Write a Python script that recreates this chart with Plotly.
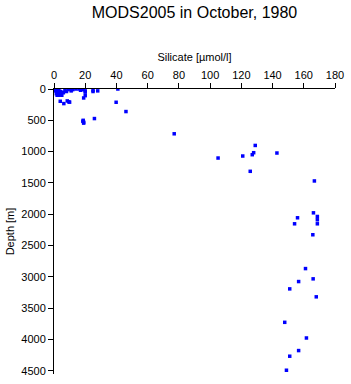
import plotly.graph_objects as go

silicate = [1, 2, 3, 1.5, 2.5, 1, 3, 4, 2, 5, 1.5, 3, 4.5, 6, 2, 3, 5, 7, 8, 9, 10, 11, 12, 14, 16, 17, 19, 20, 20, 19, 20, 25, 25, 28,
            4, 6.3, 8.5, 9.5, 10, 18.5, 19, 19, 18.7, 25.9, 39.8, 40.9, 46.1, 77,
            128.9, 127.9, 127, 142.8, 105.1, 120.9, 125.7, 166.8, 166.2, 168.7, 168.7, 168.7, 156, 154.1, 165.8,
            161.1, 166, 156.7, 151, 168, 147.8, 161.7, 156.7, 151, 148.9]
depth = [0, 0, 5, 10, 20, 30, 30, 40, 50, 50, 75, 75, 75, 60, 100, 100, 100, 20, 40, 10, 0, 30, 10, 0, 0, 20, 10, 30, 50, 143, 106, 20, 40, 30,
         196, 233, 190, 205, 210, 515, 530, 545, 500, 472, 212, 0, 360, 715,
         901, 1017, 1049, 1022, 1102, 1070, 1314, 1468, 1977, 2035, 2088, 2152, 2056, 2152, 2327,
         2867, 3031, 3074, 3191, 3318, 3725, 3975, 4176, 4266, 4490]

fig = go.Figure(go.Scatter(
    x=silicate, y=depth, mode="markers",
    marker=dict(symbol="square", size=3.5, color="#0000FF", line=dict(width=0)),
))

font = "Liberation Sans, Arial, sans-serif"
fig.update_layout(
    width=351, height=384,
    margin=dict(l=54, r=11.5, t=89, b=7),
    paper_bgcolor="white", plot_bgcolor="white",
    showlegend=False,
    font=dict(family=font, size=11, color="black"),
    title=dict(text="MODS2005 in October, 1980", xref="paper", x=0.5, xanchor="center",
               y=1 - 12 / 384, yanchor="middle", font=dict(size=16, family=font)),
    xaxis=dict(side="top", range=[0, 180], tickvals=list(range(0, 181, 20)),
               title=dict(text="Silicate [µmol/l]", font=dict(size=11), standoff=4),
               showgrid=False, zeroline=False, showline=True, linecolor="black", linewidth=1,
               ticks="outside", ticklen=5, tickcolor="black"),
    yaxis=dict(range=[4550, 0], tickvals=list(range(0, 4501, 500)),
               title=dict(text="Depth [m]", font=dict(size=11), standoff=4),
               showgrid=False, zeroline=False, showline=True, linecolor="black", linewidth=1,
               ticks="outside", ticklen=5, tickcolor="black"),
)

fig.write_html("out.html")
